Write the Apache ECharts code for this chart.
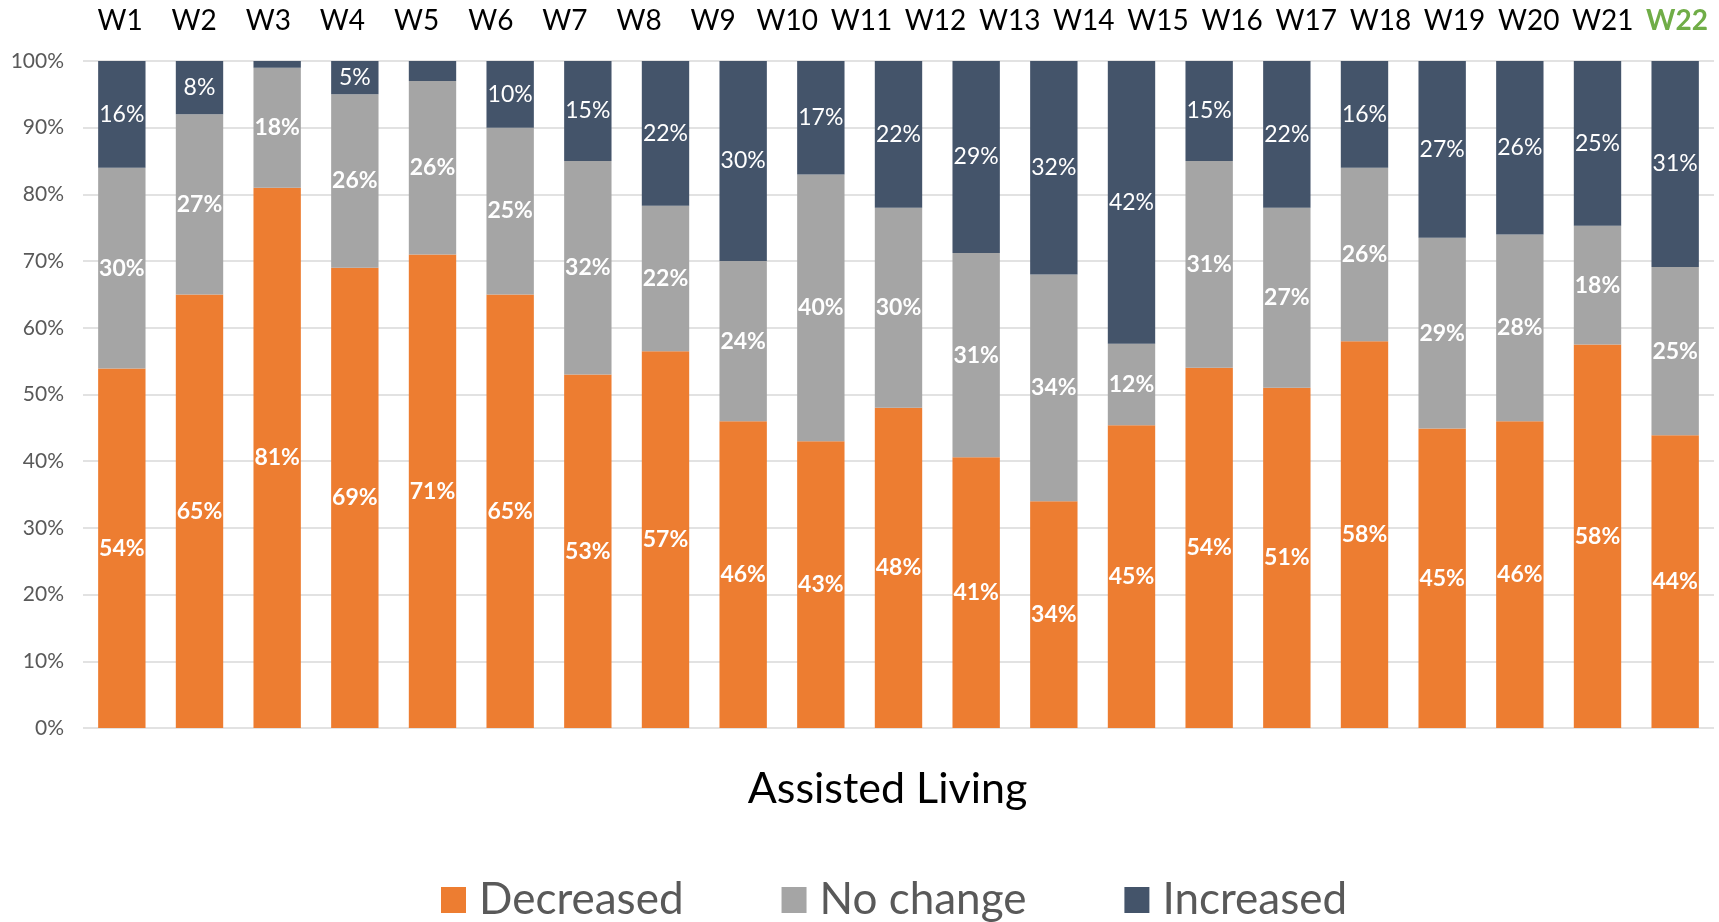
<!DOCTYPE html>
<html>
<head>
<meta charset="utf-8">
<script src="https://cdn.jsdelivr.net/npm/echarts@6/dist/echarts.min.js"></script>
<style>html,body{margin:0;padding:0;background:#fff}#c{width:1719px;height:922px}</style>
</head>
<body>
<div id="c"></div>
<script>
// Top text labels (22 week labels over 21 bars, as in the reference)
const weekLabels = ['W1','W2','W3','W4','W5','W6','W7','W8','W9','W10','W11','W12','W13','W14','W15','W16','W17','W18','W19','W20','W21','W22'];
// Bar categories (21 bars)
const barCats = ['B1','B2','B3','B4','B5','B6','B7','B8','B9','B10','B11','B12','B13','B14','B15','B16','B17','B18','B19','B20','B21'];
const decreased = [53.9, 65, 81, 69, 71, 65, 53, 56.5, 46, 43, 48, 40.6, 34, 45.4, 54, 51, 58, 44.9, 46, 57.5, 43.9];
const noChange  = [30.1, 27, 18, 26, 26, 25, 32, 21.8, 24, 40, 30, 30.6, 34, 12.2, 31, 27, 26, 28.6, 28, 17.8, 25.2];
const increased = [16, 8, 1, 5, 3, 10, 15, 21.7, 30, 17, 22, 28.8, 32, 42.4, 15, 22, 16, 26.5, 26, 24.7, 30.9];
const yTicks = [0,10,20,30,40,50,60,70,80,90,100];

const FONT = 'Lato';
const chart = echarts.init(document.getElementById('c'));
const fmt = p => (Math.round(p.value) >= 4 ? Math.round(p.value) + '%' : '');
function mk(name, data, color, bold) {
  return {
    name, type: 'bar', stack: 'all', data, barCategoryGap: '39%',
    itemStyle: { color },
    label: { show: true, position: 'inside', color: '#fff', fontFamily: FONT, fontSize: 23,
             fontWeight: bold ? 'bold' : 'normal', formatter: fmt },
    xAxisIndex: 0
  };
}
chart.setOption({
  animation: false,
  textStyle: { fontFamily: FONT },
  grid: { left: 83, right: 5, top: 61, bottom: 194, containLabel: false },
  legend: {
    bottom: 0, left: 441, padding: 0,
    itemWidth: 25, itemHeight: 26, itemGap: 98,
    icon: 'rect',
    textStyle: { fontFamily: FONT, fontSize: 44, color: '#595959', padding: [0, 0, 0, 8] },
    data: ['Decreased', 'No change', 'Increased']
  },
  xAxis: [{
    type: 'category', data: barCats, position: 'bottom',
    axisLine: { show: false }, axisTick: { show: false }, axisLabel: { show: false },
    name: 'Assisted Living', nameLocation: 'middle', nameGap: 40,
    nameTextStyle: { fontFamily: FONT, fontSize: 43, color: '#000', padding: [0, 22, 0, 0] }
  }, {
    type: 'category', data: weekLabels, position: 'top',
    axisLine: { show: false }, axisTick: { show: false },
    axisLabel: {
      interval: 0, margin: 26, fontFamily: FONT, fontSize: 28, color: '#000',
      formatter: v => v === 'W22' ? '{g|' + v + '}' : v,
      rich: { g: { color: '#70AD47', fontWeight: 'bold', fontSize: 28, fontFamily: FONT } }
    }
  }],
  yAxis: {
    type: 'value', min: yTicks[0], max: yTicks[yTicks.length - 1], interval: 10,
    axisLine: { show: false }, axisTick: { show: false },
    axisLabel: { formatter: '{value}%', fontFamily: FONT, fontSize: 21, color: '#595959', margin: 19 },
    splitLine: { lineStyle: { color: '#D9D9D9', width: 1.5 } }
  },
  series: [
    mk('Decreased', decreased, '#ED7D31', true),
    mk('No change', noChange, '#A5A5A5', true),
    mk('Increased', increased, '#44546A', false)
  ]
});
</script>
</body>
</html>
